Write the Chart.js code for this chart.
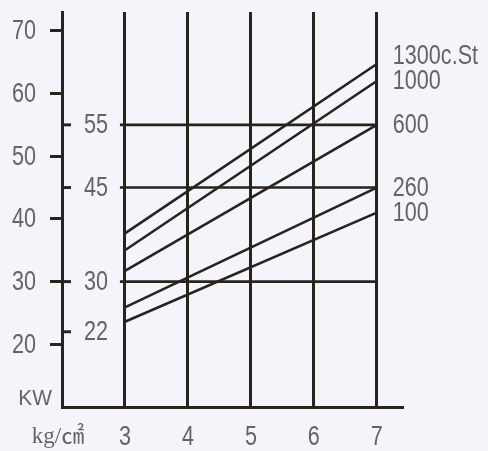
<!DOCTYPE html>
<html>
<head>
<meta charset="utf-8">
<script src="https://cdn.jsdelivr.net/npm/chart.js@4/dist/chart.umd.min.js"></script>
<style>
  html, body { margin: 0; padding: 0; background: #f3f5fa; }
  #wrap { width: 488px; height: 451px; }
</style>
</head>
<body>
<div id="wrap"><canvas id="kwChart" width="488" height="451"></canvas></div>
<script>
// pressure (kg/cm2) against motor power (KW) for oil viscosities
const pressure = [3, 7];
const viscosity = ['1300c.St', '1000', '600', '260', '100'];
const kw1300 = [37.7, 64.7];
const kw1000 = [35.0, 62.0];
const kw600 = [31.7, 55.0];
const kw260 = [25.9, 45.0];
const kw100 = [23.6, 41.0];
const xTicks = [3, 4, 5, 6, 7];
const yTicks = [20, 30, 40, 50, 60, 70];
const refLevels = [55, 45, 30];
const innerTicks = [55, 45, 30, 22];

const ink = '#2a221d';
const textGrey = '#646464';
const font = "'Liberation Sans', Arial, sans-serif";

// narrow grey lettering like the printed chart
function narrowText(c, str, x, y, align, size, squeeze) {
    c.save();
    c.translate(x, y);
    c.scale(squeeze, 1);
    c.font = size + 'px ' + font;
    c.textAlign = align;
    c.textBaseline = 'middle';
    c.fillText(str, 0, 0);
    c.restore();
}

document.addEventListener('DOMContentLoaded', function() {
    const curves = [kw1300, kw1000, kw600, kw260, kw100];
    const datasets = curves.map(function(vals, i) {
        return {
            label: viscosity[i],
            data: pressure.map((p, j) => ({ x: p, y: vals[j] })),
            showLine: true,
            borderColor: ink,
            borderWidth: 2.6,
            pointRadius: 0
        };
    });
    // horizontal reference lines from just left of the 3 line to the 7 line
    refLevels.forEach(function(v) {
        datasets.push({
            label: 'ref' + v,
            data: [{ x: 2.92, y: v }, { x: 7, y: v }],
            showLine: true,
            borderColor: ink,
            borderWidth: 2.6,
            pointRadius: 0
        });
    });

    const extras = {
        id: 'extras',
        afterDraw(chart) {
            const c = chart.ctx;
            const xs = chart.scales.x, ys = chart.scales.y;
            const left = chart.chartArea.left;
            const bottom = chart.chartArea.bottom;
            c.save();
            // inner ticks on the right side of the left axis
            c.strokeStyle = ink;
            c.lineWidth = 3;
            innerTicks.forEach(function(v) {
                const y = ys.getPixelForValue(v);
                c.beginPath();
                c.moveTo(left, y);
                c.lineTo(left + 9, y);
                c.stroke();
            });
            c.fillStyle = textGrey;
            // axis tick labels
            yTicks.forEach(function(v) {
                narrowText(c, String(v), left - 26, ys.getPixelForValue(v) + 1, 'right', 27, 0.8);
            });
            xTicks.forEach(function(v) {
                narrowText(c, String(v), xs.getPixelForValue(v), bottom + 31, 'center', 27, 0.8);
            });
            // inner scale labels
            innerTicks.forEach(function(v) {
                narrowText(c, String(v), left + 34, ys.getPixelForValue(v) + 1, 'center', 27, 0.8);
            });
            // viscosity labels at the line ends
            curves.forEach(function(vals, i) {
                const y = ys.getPixelForValue(vals[vals.length - 1]) + (i === 0 ? -7 : 1);
                narrowText(c, viscosity[i], xs.getPixelForValue(7) + 16, y, 'left', 27, 0.8);
            });
            // axis units
            narrowText(c, 'KW', left - 10, bottom - 8, 'right', 22, 0.95);
            c.font = "23px 'Liberation Serif', 'Noto Sans CJK JP', serif";
            c.textAlign = 'center';
            c.textBaseline = 'middle';
            c.fillText('kg/㎠', left - 4, bottom + 30);
            c.restore();
        }
    };

    new Chart(document.getElementById('kwChart'), {
        type: 'scatter',
        data: { datasets: datasets },
        options: {
            responsive: false,
            animation: false,
            devicePixelRatio: 1,
            layout: { padding: { top: 12, right: 86, left: 0, bottom: 0 } },
            plugins: { legend: { display: false }, tooltip: { enabled: false } },
            scales: {
                x: {
                    type: 'linear',
                    min: 2,
                    max: 7.4,
                    afterBuildTicks: function(scale) { scale.ticks = xTicks.map(v => ({ value: v })); },
                    afterFit: function(scale) {
                        scale.height = 44;
                        scale.paddingLeft = 0; scale.paddingRight = 0;
                    },
                    grid: { color: ink, lineWidth: 3, drawTicks: false },
                    border: { display: true, color: ink, width: 3 },
                    ticks: { display: false }
                },
                y: {
                    type: 'linear',
                    min: 10,
                    max: 73,
                    afterBuildTicks: function(scale) { scale.ticks = yTicks.map(v => ({ value: v })); },
                    afterFit: function(scale) {
                        scale.width = 62;
                        scale.paddingTop = 0; scale.paddingBottom = 0;
                    },
                    grid: { color: ink, lineWidth: 3, drawOnChartArea: false, tickLength: 12 },
                    border: { display: true, color: ink, width: 3 },
                    ticks: { display: false }
                }
            }
        },
        plugins: [extras]
    });
});
</script>
</body>
</html>
